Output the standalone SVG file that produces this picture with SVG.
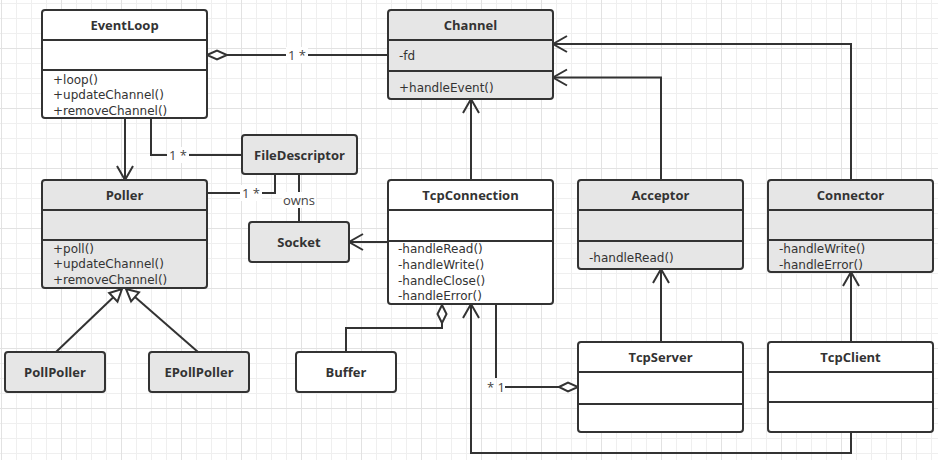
<svg xmlns="http://www.w3.org/2000/svg" width="938" height="460" viewBox="0 0 938 460">
<style>
.box{stroke:#333;stroke-width:2;}
.w{fill:#fff;}
.g{fill:#e6e6e6;}
.sep{stroke:#333;stroke-width:2;}
.title{font-family:"Open Sans","Liberation Sans",sans-serif;font-size:13px;font-weight:bold;fill:#333;text-anchor:middle;}
.mem{font-family:"DejaVu Sans","Liberation Sans",sans-serif;font-size:12px;fill:#333;}
.lbl{font-family:"Open Sans","Liberation Sans",sans-serif;font-size:13px;fill:#444;text-anchor:middle;}
.edge{fill:none;stroke:#333;stroke-width:2;}
.head{fill:none;stroke:#333;stroke-width:2;}
.hollow{fill:#fff;stroke:#333;stroke-width:2;}
.lbg{fill:#fff;}
</style>
<defs>
<pattern id="grid" x="1" y="3" width="60" height="60" patternUnits="userSpaceOnUse">
<rect x="0" y="0" width="60" height="60" fill="#fff"/>
<rect x="15" y="0" width="1" height="60" fill="#efefef"/>
<rect x="30" y="0" width="1" height="60" fill="#efefef"/>
<rect x="45" y="0" width="1" height="60" fill="#efefef"/>
<rect x="0" y="0" width="60" height="1" fill="#efefef"/>
<rect x="0" y="15" width="60" height="1" fill="#efefef"/>
<rect x="0" y="30" width="60" height="1" fill="#efefef"/>
<rect x="0" y="45" width="60" height="1" fill="#e2e2e2"/>
<rect x="0" y="0" width="1" height="60" fill="#e2e2e2"/>
</pattern>
</defs>
<rect x="0" y="0" width="938" height="460" fill="url(#grid)"/>

<g id="connectors">
<path class="edge" d="M227,55 H388"/>
<polygon class="hollow" points="207,55 217,50.5 227,55 217,59.5"/>
<rect class="lbg" x="286" y="47" width="22" height="16"/>
<text class="lbl" x="297" y="60">1 *</text>
<path class="edge" d="M125,118 V180"/>
<polyline class="head" points="117,166 125,180 133,166"/>
<path class="edge" d="M151,118 V155 H242"/>
<rect class="lbg" x="167" y="147" width="22" height="16"/>
<text class="lbl" x="178" y="160">1 *</text>
<path class="edge" d="M207,193 H275 V174"/>
<rect class="lbg" x="240" y="185" width="22" height="16"/>
<text class="lbl" x="251" y="198">1 *</text>
<path class="edge" d="M299,174 V222"/>
<rect class="lbg" x="282" y="192" width="34" height="16"/>
<text class="lbl" x="299" y="205">owns</text>
<path class="edge" d="M388,242 H350"/>
<polyline class="head" points="363,234 349,242 363,250"/>
<path class="edge" d="M471,180 V100"/>
<polyline class="head" points="463,113 471,99 479,113"/>
<path class="edge" d="M661,180 V77.5 H554"/>
<polyline class="head" points="567,69.5 553,77.5 567,85.5"/>
<path class="edge" d="M851,180 V44 H554"/>
<polyline class="head" points="567,36 553,44 567,52"/>
<path class="edge" d="M661,342 V270"/>
<polyline class="head" points="653,283 661,269 669,283"/>
<path class="edge" d="M851,342 V273"/>
<polyline class="head" points="843,286 851,272 859,286"/>
<path class="edge" d="M56,352 L113.3,297.3"/>
<polygon class="hollow" points="122,289 117.5,301.6 109.2,293"/>
<path class="edge" d="M198,352 L135,296.9"/>
<polygon class="hollow" points="126,289 139,292.4 131.1,301.4"/>
<path class="edge" d="M346,352 V328 H442 V323"/>
<polygon class="hollow" points="442,305 446.5,314 442,323 437.5,314"/>
<path class="edge" d="M496,304 V378"/>
<path class="edge" d="M505,387 H559"/>
<polygon class="hollow" points="559,387 568,382.5 578,387 568,391.5"/>
<text class="lbl" x="496" y="392">* 1</text>
<path class="edge" d="M851,432 V453 H471 V305"/>
<polyline class="head" points="463,318 471,304 479,318"/>
</g>

<g id="EventLoop">
<rect class="box w" x="42" y="10" width="165" height="108" rx="3"/>
<line class="sep" x1="42" y1="40" x2="207" y2="40"/>
<line class="sep" x1="42" y1="70" x2="207" y2="70"/>
<text class="title" x="124.5" y="29.5">EventLoop</text>
<text class="mem" x="53" y="83.5">+loop()</text>
<text class="mem" x="53" y="99">+updateChannel()</text>
<text class="mem" x="53" y="114.5">+removeChannel()</text>
</g>

<g id="Channel">
<rect class="box g" x="388" y="10" width="165" height="89" rx="3"/>
<line class="sep" x1="388" y1="40" x2="553" y2="40"/>
<line class="sep" x1="388" y1="71" x2="553" y2="71"/>
<text class="title" x="470.5" y="29.5">Channel</text>
<text class="mem" x="399" y="59.5">-fd</text>
<text class="mem" x="399" y="91.5">+handleEvent()</text>
</g>

<g id="FileDescriptor">
<rect class="box g" x="242" y="135" width="115" height="39" rx="3"/>
<text class="title" x="299.5" y="159.5">FileDescriptor</text>
</g>

<g id="Poller">
<rect class="box g" x="42" y="180" width="165" height="108" rx="3"/>
<line class="sep" x1="42" y1="210" x2="207" y2="210"/>
<line class="sep" x1="42" y1="240" x2="207" y2="240"/>
<text class="title" x="124.5" y="199.5">Poller</text>
<text class="mem" x="53" y="252.5">+poll()</text>
<text class="mem" x="53" y="268">+updateChannel()</text>
<text class="mem" x="53" y="283.5">+removeChannel()</text>
</g>

<g id="Socket">
<rect class="box g" x="249" y="222" width="100" height="40" rx="3"/>
<text class="title" x="299" y="246.5">Socket</text>
</g>

<g id="TcpConnection">
<rect class="box w" x="388" y="180" width="165" height="124" rx="3"/>
<line class="sep" x1="388" y1="210" x2="553" y2="210"/>
<line class="sep" x1="388" y1="241" x2="553" y2="241"/>
<text class="title" x="470.5" y="199.5">TcpConnection</text>
<text class="mem" x="398" y="253">-handleRead()</text>
<text class="mem" x="398" y="268.5">-handleWrite()</text>
<text class="mem" x="398" y="284.5">-handleClose()</text>
<text class="mem" x="398" y="300">-handleError()</text>
</g>

<g id="Acceptor">
<rect class="box g" x="578" y="180" width="165" height="89" rx="3"/>
<line class="sep" x1="578" y1="210" x2="743" y2="210"/>
<line class="sep" x1="578" y1="241" x2="743" y2="241"/>
<text class="title" x="660.5" y="199.5">Acceptor</text>
<text class="mem" x="589" y="261.5">-handleRead()</text>
</g>

<g id="Connector">
<rect class="box g" x="768" y="180" width="165" height="92" rx="3"/>
<line class="sep" x1="768" y1="210" x2="933" y2="210"/>
<line class="sep" x1="768" y1="240" x2="933" y2="240"/>
<text class="title" x="850.5" y="199.5">Connector</text>
<text class="mem" x="779" y="253">-handleWrite()</text>
<text class="mem" x="779" y="269">-handleError()</text>
</g>

<g id="PollPoller">
<rect class="box g" x="5" y="352" width="100" height="40" rx="3"/>
<text class="title" x="55" y="376.5">PollPoller</text>
</g>

<g id="EPollPoller">
<rect class="box g" x="149" y="352" width="100" height="40" rx="3"/>
<text class="title" x="199" y="376.5">EPollPoller</text>
</g>

<g id="Buffer">
<rect class="box w" x="296" y="352" width="100" height="40" rx="3"/>
<text class="title" x="346" y="376.5">Buffer</text>
</g>

<g id="TcpServer">
<rect class="box w" x="578" y="342" width="165" height="90" rx="3"/>
<line class="sep" x1="578" y1="372" x2="743" y2="372"/>
<line class="sep" x1="578" y1="404" x2="743" y2="404"/>
<text class="title" x="660.5" y="361.5">TcpServer</text>
</g>

<g id="TcpClient">
<rect class="box w" x="768" y="342" width="165" height="90" rx="3"/>
<line class="sep" x1="768" y1="372" x2="933" y2="372"/>
<line class="sep" x1="768" y1="402" x2="933" y2="402"/>
<text class="title" x="850.5" y="361.5">TcpClient</text>
</g>
</svg>
